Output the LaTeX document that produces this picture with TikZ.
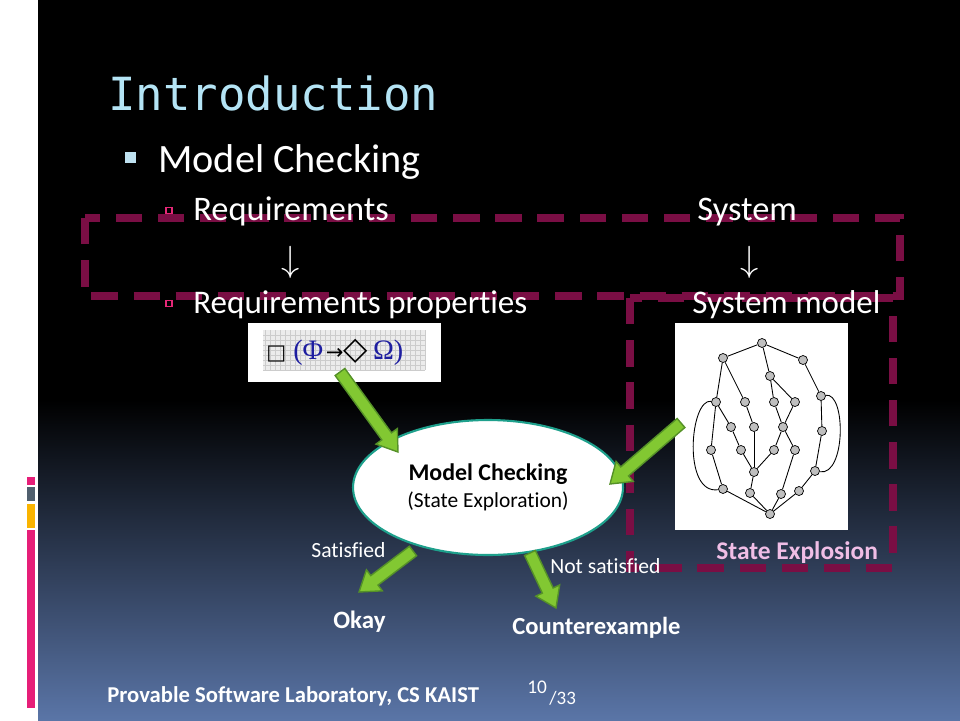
\documentclass[tikz,border=0pt]{standalone}
\usepackage{fontspec}
\setmainfont{Carlito}[Ligatures=NoCommon]
\newfontfamily\titlefont{DejaVu Sans Mono}
\newfontfamily\symfont{DejaVu Sans}
\newfontfamily\formfont{Liberation Serif}
\usetikzlibrary{calc,shapes.geometric}

\definecolor{dashc}{RGB}{122,14,68}
\definecolor{titlec}{RGB}{180,228,245}
\definecolor{bulc}{RGB}{190,225,240}
\definecolor{subbulc}{RGB}{230,40,120}
\definecolor{stripp}{RGB}{230,30,120}
\definecolor{stripg}{RGB}{80,95,110}
\definecolor{stripo}{RGB}{250,180,0}
\definecolor{agreen}{RGB}{130,200,50}
\definecolor{agreenline}{RGB}{85,145,40}
\definecolor{ellc}{RGB}{30,160,140}
\definecolor{explc}{RGB}{240,190,230}
\definecolor{fblue}{RGB}{30,30,160}
\definecolor{bgblue}{RGB}{90,117,167}

% block arrow from #1 to #2
\newcommand{\greenarrow}[2]{%
  \filldraw[garrow] let \p1=($(#2)-(#1)$), \n1={atan2(\y1,\x1)}, \p2=($(#2)!11pt!(#1)$) in
    ($(#1)+(\n1+90:3.4pt)$) -- ($(\p2)+(\n1+90:3.4pt)$) -- ($(\p2)+(\n1+90:7.5pt)$)
    -- (#2) -- ($(\p2)+(\n1-90:7.5pt)$) -- ($(\p2)+(\n1-90:3.4pt)$)
    -- ($(#1)+(\n1-90:3.4pt)$) -- cycle;}

\begin{document}
\begin{tikzpicture}[x=0.02cm, y=-0.02cm,
  txt/.style={text=white, inner sep=0pt, anchor=base west},
  dashbox/.style={draw=dashc, line width=4pt, dash pattern=on 15pt off 9pt},
  subbul/.style={draw=subbulc, line width=0.6pt, inner sep=0pt, minimum size=0.12cm},
  gnode/.style={circle, draw, fill=gray!50, inner sep=0pt, minimum size=0.18cm, line width=0.4pt},
  garrow/.style={fill=agreen, draw=agreenline, line width=0.8pt, line join=miter}]
\useasboundingbox (0,0) rectangle (960,720);

% background
\fill[white] (0,0) rectangle (38,720);
\fill[black] (38,0) rectangle (960,720);
\shade[top color=black, bottom color=bgblue] (38,400) rectangle (960,720);
\fill[stripp] (27,477) rectangle (35,485);
\fill[stripg] (27,487) rectangle (35,501);
\fill[stripo] (27,504) rectangle (35,528);
\fill[stripp] (27,530) rectangle (35,708);

% dashed boxes
\draw[dashbox] (85,218) rectangle (900,296);
\draw[dashbox] (630,298) rectangle (893,568);

% title and bullets
\node[txt, text=titlec, font=\titlefont\fontsize{26}{26}\selectfont] (title) at (108,110) {Introduction};
\node[fill=bulc, inner sep=0pt, minimum size=0.22cm] (bul) at (130.5,157) {};
\node[txt, font=\fontsize{22.9}{26}\selectfont] (mc) at (158,172) {Model Checking};

\node[subbul] (sb1) at (169,210.5) {};
\node[txt, font=\fontsize{19.6}{22}\selectfont] (req) at (193,220) {Requirements};
\node[txt, font=\fontsize{19.6}{22}\selectfont] (sys) at (697,220) {System};
\node[text=white, font=\fontsize{19.5}{22}\selectfont] (ar1) at (291,262) {$\downarrow$};
\node[text=white, font=\fontsize{19.5}{22}\selectfont] (ar2) at (750,262) {$\downarrow$};
\node[subbul] (sb2) at (169,303.5) {};
\node[txt, font=\fontsize{18.8}{22}\selectfont] (reqp) at (193,313) {Requirements properties};
\node[txt, font=\fontsize{18.8}{22}\selectfont] (sysm) at (692,313) {System model};

% requirement formula
\fill[white] (248,323) rectangle (441,382);
\fill[gray!15] (263,330) rectangle (425,370);
\draw[gray!40, line width=0.3pt, step=0.1cm] (263,330) grid (425,370);
\node[inner sep=0pt, anchor=base west] (form) at (266,359)
  {{\symfont\fontsize{12}{12}\selectfont □}\hspace{4pt}%
   {\color{fblue}\formfont\fontsize{16}{16}\selectfont (Φ}\hspace{1.5pt}%
   {\symfont\fontsize{12}{12}\selectfont →}%
   {\symfont\fontsize{18}{18}\selectfont ◇}\hspace{3pt}%
   {\color{fblue}\formfont\fontsize{16}{16}\selectfont Ω)}};

% system model graph
\fill[white] (675,323) rectangle (848,530);
\foreach \n/\x/\y in {1/762/343, 2/723/358, 3/803/360, 4/770/376, 5/716/402, 6/745/402,
  7/774/402, 8/795/402, 9/821/396, 10/731/427, 11/754/427, 12/783/427, 13/822/431,
  14/711/450, 15/741/450, 16/774/450, 17/795/450, 18/754/472, 19/815/471,
  20/723/489, 21/750/493, 22/781/494, 23/799/491, 24/770/514}
  \node[gnode] (g\n) at (\x,\y) {};
\foreach \a/\b in {1/2, 1/3, 1/4, 2/5, 2/6, 3/9, 4/7, 4/8, 5/10, 5/14, 6/11, 7/12,
  8/12, 9/13, 10/15, 11/18, 12/16, 12/17, 13/19, 14/20, 15/18, 16/18, 17/22,
  18/21, 19/23, 20/24, 21/24, 22/24, 23/24}
  \draw[line width=0.5pt] (g\a) -- (g\b);
\draw[line width=0.5pt] (g5) .. controls (690,398) and (682,495) .. (g20);
\draw[line width=0.5pt] (g9) .. controls (846,392) and (846,476) .. (g19);

% model checking
\node[ellipse, draw=ellc, line width=1.2pt, fill=white, minimum width=5.4cm,
  minimum height=2.7cm, align=center, inner sep=0pt] (check) at (488,487.5)
  {{\bfseries\fontsize{13.6}{14}\selectfont Model Checking}\\[3pt]
   {\fontsize{12.2}{14}\selectfont (State Exploration)}};

\coordinate (a1s) at (340,372);
\coordinate (a1e) at (398,452);
\coordinate (a2s) at (681,423);
\coordinate (a2e) at (610,484);
\coordinate (a3s) at (413,551);
\coordinate (a3e) at (359,592);
\coordinate (a4s) at (530,553);
\coordinate (a4e) at (556,608);
\greenarrow{a1s}{a1e}
\greenarrow{a2s}{a2e}
\greenarrow{a3s}{a3e}
\greenarrow{a4s}{a4e}

\node[txt, font=\fontsize{12.3}{14}\selectfont] (sat) at (311,557) {Satisfied};
\node[txt, font=\fontsize{12.3}{14}\selectfont] (nsat) at (550,573) {Not satisfied};
\node[txt, font=\bfseries\fontsize{14.2}{16}\selectfont] (okay) at (333,628) {Okay};
\node[txt, font=\bfseries\fontsize{14}{16}\selectfont] (cex) at (512,634) {Counterexample};
\node[txt, text=explc, font=\bfseries\fontsize{14.5}{16}\selectfont] (expl) at (716,559) {State Explosion};

% footer
\node[txt, font=\bfseries\fontsize{12.9}{14}\selectfont] (lab) at (107,702) {Provable Software Laboratory, CS KAIST};
\node[txt, font=\fontsize{11}{11}\selectfont] (pg) at (527,693) {10};
\node[txt, font=\fontsize{10.8}{12}\selectfont] (pgt) at (549,704) {/33};
\end{tikzpicture}
\end{document}
